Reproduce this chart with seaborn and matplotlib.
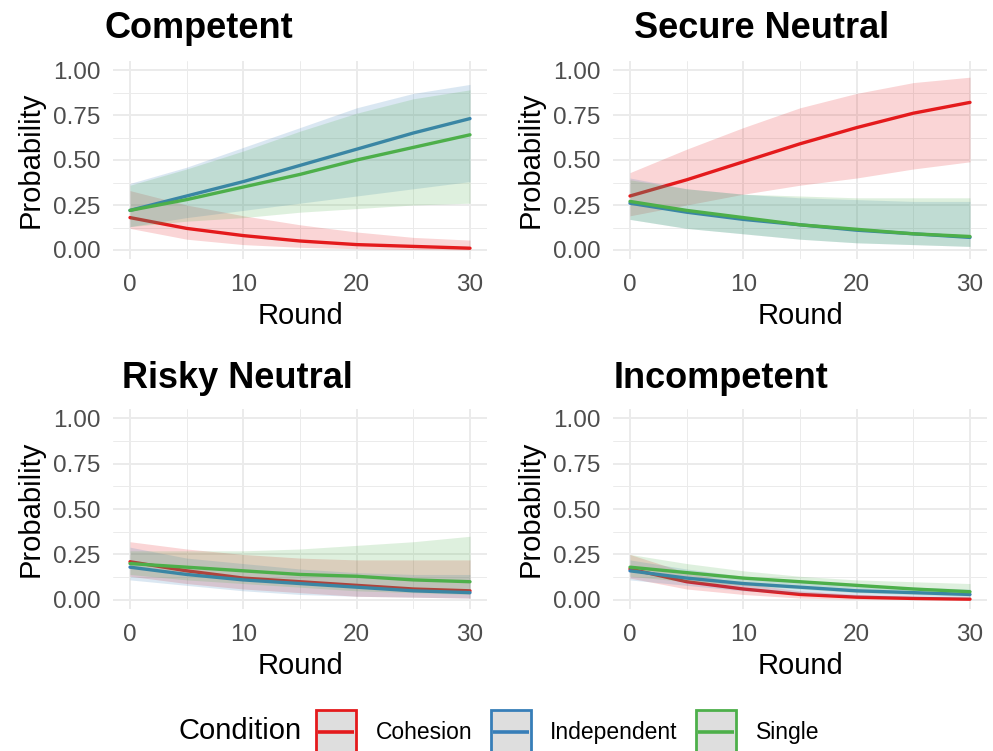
# Predicted probability of each profile over rounds, by condition
import seaborn as sns
import matplotlib.pyplot as plt
import pandas as pd
from matplotlib.patches import Rectangle
from matplotlib.lines import Line2D

rounds = [0, 5, 10, 15, 20, 25, 30]
conditions = ['Cohesion', 'Independent', 'Single']
colors = ['#E41A1C', '#377EB8', '#4DAF4A']
panels = ['Competent', 'Secure Neutral', 'Risky Neutral', 'Incompetent']

# Competent
comp_coh = [0.18, 0.12, 0.08, 0.05, 0.03, 0.02, 0.01]
comp_coh_lo = [0.12, 0.06, 0.03, 0.015, 0.007, 0.003, 0.001]
comp_coh_hi = [0.33, 0.25, 0.19, 0.14, 0.10, 0.07, 0.055]
comp_ind = [0.22, 0.30, 0.38, 0.47, 0.56, 0.65, 0.73]
comp_ind_lo = [0.13, 0.18, 0.22, 0.26, 0.30, 0.34, 0.38]
comp_ind_hi = [0.37, 0.46, 0.57, 0.68, 0.79, 0.87, 0.92]
comp_sin = [0.22, 0.28, 0.35, 0.42, 0.50, 0.57, 0.64]
comp_sin_lo = [0.13, 0.16, 0.18, 0.21, 0.23, 0.25, 0.26]
comp_sin_hi = [0.36, 0.45, 0.55, 0.66, 0.76, 0.84, 0.89]

# Secure Neutral
sec_coh = [0.30, 0.39, 0.49, 0.59, 0.68, 0.76, 0.82]
sec_coh_lo = [0.19, 0.25, 0.31, 0.36, 0.40, 0.45, 0.49]
sec_coh_hi = [0.43, 0.56, 0.68, 0.79, 0.87, 0.93, 0.96]
sec_ind = [0.26, 0.21, 0.17, 0.14, 0.11, 0.09, 0.07]
sec_ind_lo = [0.17, 0.12, 0.09, 0.06, 0.04, 0.03, 0.02]
sec_ind_hi = [0.40, 0.34, 0.31, 0.29, 0.28, 0.27, 0.27]
sec_sin = [0.27, 0.22, 0.18, 0.14, 0.115, 0.09, 0.075]
sec_sin_lo = [0.17, 0.12, 0.09, 0.06, 0.04, 0.03, 0.02]
sec_sin_hi = [0.39, 0.34, 0.31, 0.30, 0.29, 0.29, 0.29]

# Risky Neutral
risk_coh = [0.21, 0.16, 0.12, 0.10, 0.08, 0.06, 0.05]
risk_coh_lo = [0.13, 0.09, 0.06, 0.04, 0.02, 0.015, 0.01]
risk_coh_hi = [0.32, 0.28, 0.25, 0.23, 0.22, 0.22, 0.22]
risk_ind = [0.18, 0.14, 0.11, 0.09, 0.07, 0.05, 0.04]
risk_ind_lo = [0.11, 0.08, 0.05, 0.03, 0.02, 0.015, 0.01]
risk_ind_hi = [0.29, 0.23, 0.20, 0.17, 0.15, 0.14, 0.14]
risk_sin = [0.20, 0.18, 0.16, 0.14, 0.13, 0.11, 0.10]
risk_sin_lo = [0.14, 0.11, 0.09, 0.07, 0.05, 0.04, 0.03]
risk_sin_hi = [0.27, 0.27, 0.27, 0.28, 0.30, 0.32, 0.35]

# Incompetent
inc_coh = [0.17, 0.10, 0.06, 0.03, 0.015, 0.008, 0.004]
inc_coh_lo = [0.12, 0.06, 0.03, 0.01, 0.004, 0.002, 0.0]
inc_coh_hi = [0.25, 0.15, 0.09, 0.05, 0.03, 0.02, 0.01]
inc_ind = [0.16, 0.12, 0.09, 0.07, 0.05, 0.04, 0.03]
inc_ind_lo = [0.11, 0.08, 0.05, 0.035, 0.02, 0.015, 0.01]
inc_ind_hi = [0.22, 0.17, 0.13, 0.10, 0.08, 0.07, 0.06]
inc_sin = [0.18, 0.15, 0.12, 0.10, 0.08, 0.06, 0.045]
inc_sin_lo = [0.13, 0.10, 0.08, 0.06, 0.04, 0.03, 0.02]
inc_sin_hi = [0.25, 0.20, 0.16, 0.13, 0.11, 0.10, 0.09]

panel_data = {
    'Competent': [(comp_coh, comp_coh_lo, comp_coh_hi), (comp_ind, comp_ind_lo, comp_ind_hi), (comp_sin, comp_sin_lo, comp_sin_hi)],
    'Secure Neutral': [(sec_coh, sec_coh_lo, sec_coh_hi), (sec_ind, sec_ind_lo, sec_ind_hi), (sec_sin, sec_sin_lo, sec_sin_hi)],
    'Risky Neutral': [(risk_coh, risk_coh_lo, risk_coh_hi), (risk_ind, risk_ind_lo, risk_ind_hi), (risk_sin, risk_sin_lo, risk_sin_hi)],
    'Incompetent': [(inc_coh, inc_coh_lo, inc_coh_hi), (inc_ind, inc_ind_lo, inc_ind_hi), (inc_sin, inc_sin_lo, inc_sin_hi)],
}


# legend key: grey box with coloured border and a line through the middle
class KeyHandler:
    def legend_artist(self, legend, orig_handle, fontsize, handlebox):
        x0, y0 = handlebox.xdescent, handlebox.ydescent
        w, h = handlebox.width, handlebox.height
        col = orig_handle.get_edgecolor()
        tr = handlebox.get_transform()
        rect = Rectangle((-x0, -y0), w, h, facecolor='#DEDEDE', edgecolor=col,
                         linewidth=2, transform=tr)
        line = Line2D([-x0 + 1.5, -x0 + w - 1.5], [-y0 + h / 2] * 2, color=col,
                      linewidth=2.6, solid_capstyle='butt', transform=tr)
        handlebox.add_artist(rect)
        handlebox.add_artist(line)
        return rect


sns.set_theme(style='white')
plt.rcParams['font.family'] = ['Liberation Sans', 'DejaVu Sans']
plt.rcParams['text.color'] = 'black'

W, H = 993, 751
fig = plt.figure(figsize=(W / 100, H / 100), dpi=100)

# panel boxes in pixels: left, top, right, bottom
boxes = [(113, 61, 487, 259), (613, 61, 987, 259), (113, 409, 487, 609), (613, 409, 987, 609)]
titles_xy = [(104, 38), (634, 38), (122, 388), (614, 388)]

for name, (l, t, r, b), (tx, ty) in zip(panels, boxes, titles_xy):
    ax = fig.add_axes([l / W, 1 - b / H, (r - l) / W, (b - t) / H])
    rows = []
    for cond, (mean, lo, hi) in zip(conditions, panel_data[name]):
        for x, m, a, c in zip(rounds, mean, lo, hi):
            rows.append({'Round': x, 'Probability': m, 'lo': a, 'hi': c, 'Condition': cond})
    df = pd.DataFrame(rows)

    sns.lineplot(data=df, x='Round', y='Probability', hue='Condition', hue_order=conditions,
                 palette=colors, errorbar=None, legend=False, linewidth=2.4, ax=ax)
    for i, (cond, col) in enumerate(zip(conditions, colors)):
        sub = df[df['Condition'] == cond]
        ax.fill_between(sub['Round'], sub['lo'], sub['hi'], color=col, alpha=0.18,
                        linewidth=0, zorder=2 + 2 * i)
        ax.lines[i].set_zorder(3 + 2 * i)

    ax.set_xlim(-1.5, 31.5)
    ax.set_ylim(-0.05, 1.05)
    ax.set_xticks([0, 10, 20, 30])
    ax.set_xticks([5, 15, 25], minor=True)
    ax.set_yticks([0, 0.25, 0.5, 0.75, 1.0])
    ax.set_yticklabels(['0.00', '0.25', '0.50', '0.75', '1.00'])
    ax.set_yticks([0.125, 0.375, 0.625, 0.875], minor=True)
    ax.grid(which='major', color='#EBEBEB', linewidth=1.4)
    ax.grid(which='minor', color='#EBEBEB', linewidth=0.7)
    ax.set_axisbelow(True)
    for s in ax.spines.values():
        s.set_visible(False)
    ax.tick_params(which='both', length=0, labelsize=17.5, labelcolor='#4D4D4D')
    ax.tick_params(axis='x', pad=11)
    ax.tick_params(axis='y', pad=9)
    ax.set_xlabel('Round', fontsize=21, color='black', labelpad=4)
    ax.set_ylabel('Probability', fontsize=21, color='black', labelpad=6)
    fig.text(tx / W, 1 - ty / H, name, fontsize=26, fontweight='bold', color='black',
             ha='left', va='baseline')

# legend
fig.text(178 / W, 1 - 731 / H, 'Condition', fontsize=21, ha='left', va='center')
handles = [Rectangle((0, 0), 1, 1, edgecolor=col) for col in colors]
fig.legend(handles, conditions, loc='center left', bbox_to_anchor=(316 / W, 1 - 732 / H),
           ncol=3, frameon=False, fontsize=16.5, handlelength=1.75, handleheight=2.6,
           handletextpad=0.85, columnspacing=0.8, borderpad=0, borderaxespad=0,
           labelcolor='black', handler_map={Rectangle: KeyHandler()})

fig.savefig('out.png', dpi=100)
